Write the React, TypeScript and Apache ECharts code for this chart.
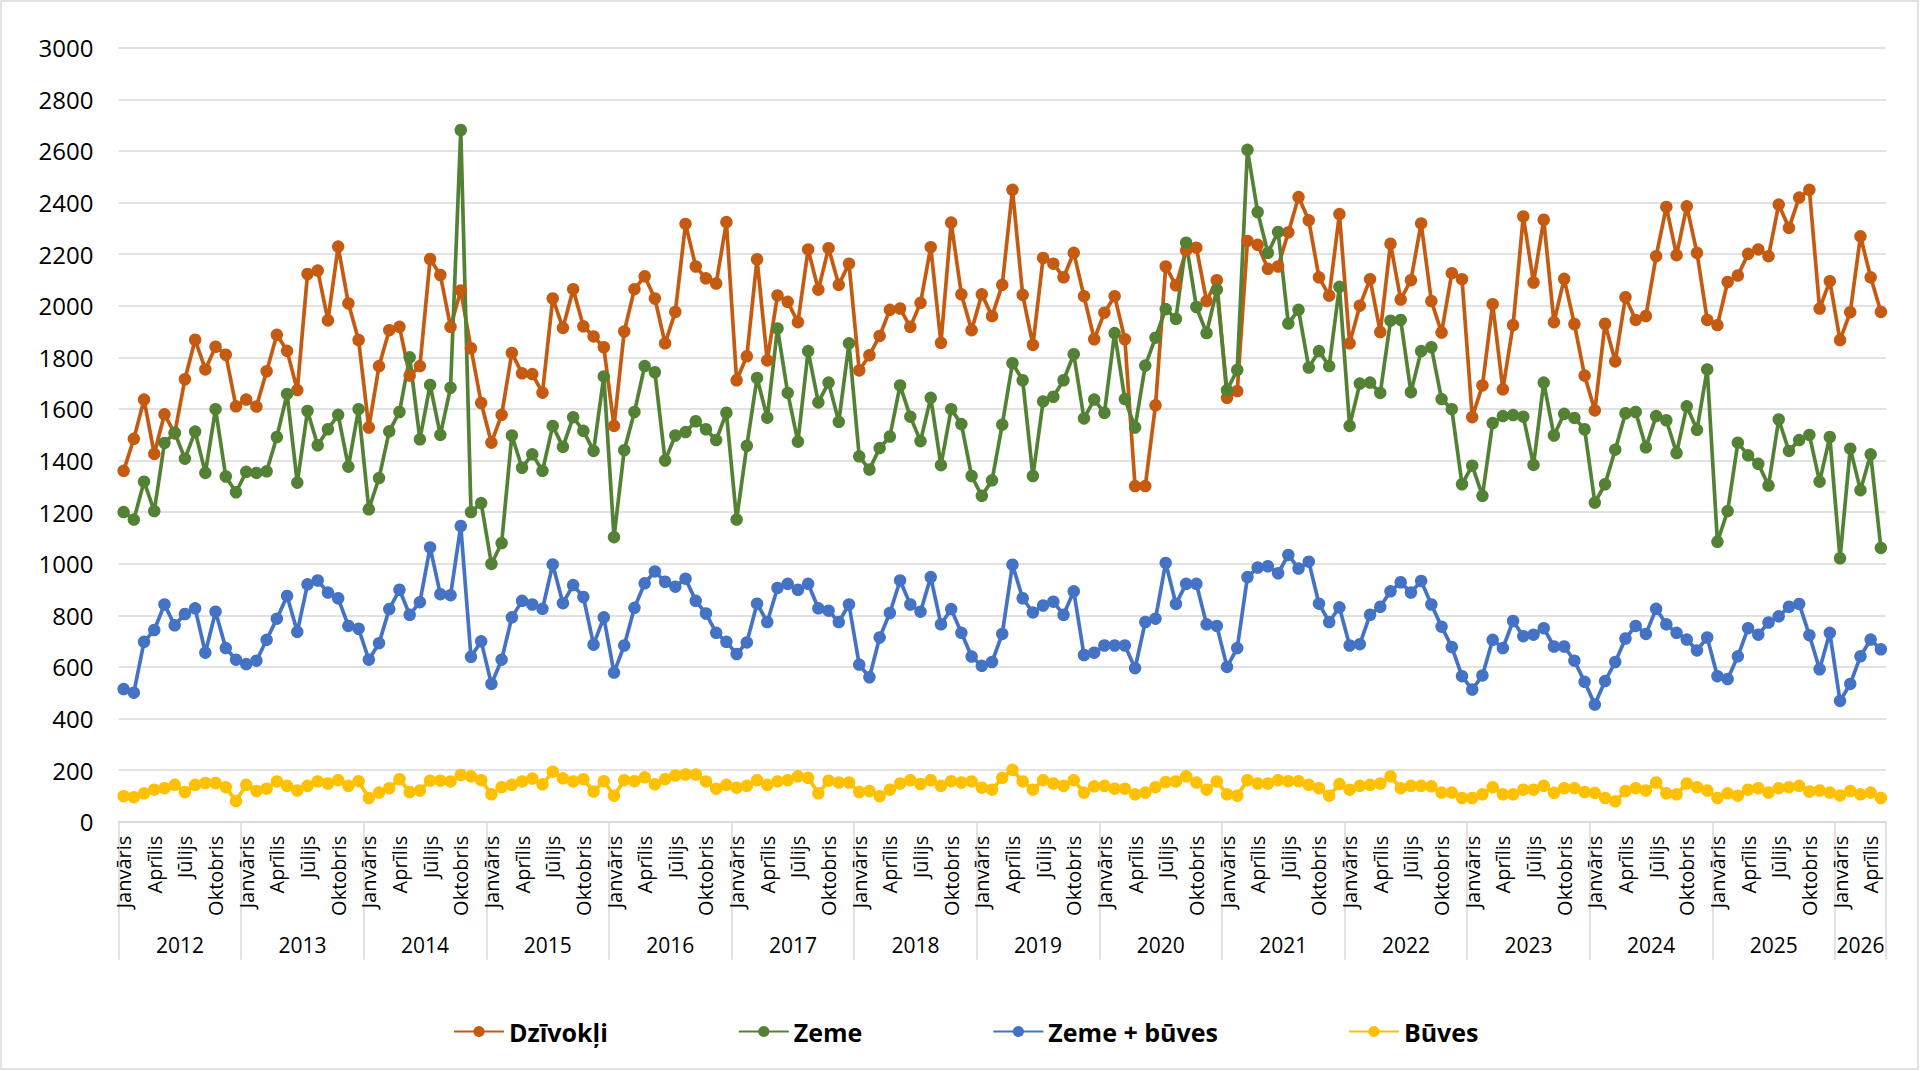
import React, { useEffect, useRef } from 'react';
import * as echarts from 'echarts';

const years = ['2012', '2013', '2014', '2015', '2016', '2017', '2018', '2019', '2020', '2021', '2022', '2023', '2024', '2025', '2026'];
const monthNames = ['Janvāris', 'Februāris', 'Marts', 'Aprīlis', 'Maijs', 'Jūnijs', 'Jūlijs', 'Augusts', 'Septembris', 'Oktobris', 'Novembris', 'Decembris'];
const lastYearMonths = 5;

const yTicks = { min: 0, max: 3000, interval: 200 };

const dzivokli = [
  1360, 1484, 1636, 1426, 1579, 1505, 1715, 1868, 1753, 1841, 1810, 1610,
  1636, 1609, 1746, 1887, 1825, 1673, 2123, 2136, 1943, 2229, 2009, 1867,
  1528, 1766, 1905, 1918, 1729, 1766, 2181, 2119, 1918, 2059, 1835, 1623,
  1469, 1577, 1817, 1738, 1735, 1663, 2028, 1914, 2064, 1920, 1881, 1839,
  1534, 1900, 2064, 2114, 2028, 1854, 1976, 2317, 2152, 2106, 2086, 2324,
  1711, 1804, 2180, 1788, 2040, 2015, 1936, 2218, 2062, 2223, 2081, 2163,
  1749, 1808, 1883, 1984, 1989, 1918, 2011, 2227, 1856, 2322, 2044, 1905,
  2044, 1960, 2081, 2449, 2042, 1848, 2185, 2163, 2110, 2205, 2037, 1870,
  1973, 2037, 1870, 1301, 1301, 1614, 2152, 2079, 2214, 2225, 2018, 2099,
  1643, 1669, 2251, 2236, 2143, 2152, 2284, 2421, 2331, 2110, 2039, 2355,
  1854, 2000, 2103, 1898, 2240, 2024, 2099, 2319, 2018, 1896, 2126, 2103,
  1568, 1691, 2006, 1676, 1925, 2346, 2090, 2333, 1936, 2104, 1929, 1729,
  1594, 1930, 1784, 2033, 1945, 1960, 2192, 2383, 2196, 2385, 2205, 1945,
  1925, 2092, 2117, 2201, 2218, 2192, 2392, 2302, 2419, 2449, 1989, 2095,
  1867, 1975, 2269, 2110, 1976,
];

const zeme = [
  1200, 1171, 1318, 1204, 1468, 1508, 1407, 1512, 1352, 1599, 1338, 1277,
  1356, 1352, 1358, 1491, 1658, 1314, 1592, 1459, 1521, 1577, 1376, 1599,
  1211, 1332, 1513, 1588, 1800, 1482, 1693, 1499, 1682, 2681, 1200, 1235,
  999, 1080, 1497, 1372, 1424, 1360, 1534, 1453, 1568, 1515, 1437, 1726,
  1103, 1440, 1588, 1766, 1742, 1400, 1497, 1510, 1552, 1521, 1479, 1585,
  1171, 1457, 1720, 1566, 1912, 1662, 1473, 1824, 1625, 1702, 1550, 1854,
  1416, 1365, 1448, 1493, 1691, 1570, 1475, 1643, 1382, 1599, 1541, 1340,
  1263, 1323, 1539, 1777, 1711, 1340, 1629, 1647, 1711, 1812, 1563, 1636,
  1585, 1894, 1638, 1528, 1768, 1876, 1987, 1949, 2244, 1995, 1894, 2062,
  1673, 1751, 2604, 2363, 2205, 2286, 1931, 1984, 1760, 1824, 1766, 2073,
  1534, 1698, 1702, 1662, 1942, 1945, 1665, 1824, 1839, 1638, 1599, 1308,
  1380, 1263, 1545, 1572, 1576, 1570, 1383, 1702, 1497, 1581, 1565, 1521,
  1237, 1308, 1442, 1583, 1588, 1451, 1572, 1556, 1429, 1610, 1519, 1753,
  1085, 1204, 1469, 1420, 1387, 1303, 1559, 1437, 1479, 1499, 1318, 1491,
  1021, 1446, 1285, 1424, 1061,
];

const zemeBuves = [
  514, 500, 697, 743, 842, 761, 805, 827, 655, 814, 673, 628,
  611, 624, 705, 787, 875, 736, 920, 935, 888, 866, 759, 748,
  628, 692, 824, 899, 802, 851, 1063, 882, 878, 1146, 639, 699,
  534, 628, 792, 856, 842, 825, 997, 847, 917, 871, 686, 792,
  578, 683, 829, 924, 970, 930, 911, 942, 856, 807, 732, 697,
  650, 695, 845, 774, 906, 922, 899, 922, 827, 818, 774, 842,
  609, 560, 714, 809, 935, 842, 814, 948, 765, 824, 732, 640,
  604, 619, 728, 996, 866, 811, 838, 853, 802, 893, 646, 655,
  683, 683, 683, 595, 774, 787, 1003, 844, 922, 922, 765, 759,
  600, 673, 948, 985, 990, 963, 1034, 981, 1008, 845, 774, 831,
  683, 688, 802, 833, 893, 928, 888, 933, 842, 756, 677, 564,
  512, 567, 705, 673, 778, 719, 725, 750, 679, 679, 624, 542,
  454, 545, 619, 710, 759, 728, 825, 765, 732, 706, 664, 714,
  564, 553, 641, 750, 725, 772, 796, 833, 844, 723, 591, 732,
  468, 534, 641, 706, 668,
];

const buves = [
  99, 95, 110, 124, 130, 143, 115, 143, 150, 150, 134, 80,
  143, 119, 128, 156, 139, 121, 139, 156, 148, 161, 139, 157,
  92, 113, 130, 165, 115, 121, 159, 159, 156, 181, 176, 161,
  106, 134, 143, 156, 167, 145, 194, 168, 156, 165, 117, 157,
  101, 161, 157, 172, 145, 165, 179, 183, 183, 156, 128, 143,
  132, 139, 161, 143, 156, 161, 176, 170, 110, 159, 152, 152,
  115, 119, 99, 124, 148, 161, 146, 161, 139, 157, 152, 156,
  132, 124, 170, 201, 156, 124, 161, 148, 139, 161, 113, 137,
  139, 128, 128, 106, 113, 134, 154, 156, 176, 152, 124, 156,
  106, 101, 161, 148, 148, 161, 157, 157, 143, 130, 101, 146,
  124, 139, 143, 148, 176, 130, 139, 139, 137, 113, 113, 92,
  92, 106, 134, 106, 106, 124, 124, 139, 112, 130, 130, 115,
  112, 92, 79, 119, 130, 121, 152, 110, 106, 148, 134, 121,
  92, 110, 101, 124, 130, 113, 130, 134, 139, 117, 121, 113,
  102, 119, 106, 113, 92,
];

const seriesNames = ['Dzīvokļi', 'Zeme', 'Zeme + būves', 'Būves'];
const seriesColors = ['#C55A11', '#548235', '#4472C4', '#FFC000'];

const FONT = '"Open Sans", sans-serif';

export default function App() {
  const ref = useRef<HTMLDivElement>(null);

  useEffect(() => {
    document.body.style.margin = '0';
    const chart = echarts.init(ref.current as HTMLDivElement, null, { renderer: 'svg' });

    const keys: string[] = [];
    const monthIdx: number[] = [];
    const yearOf: string[] = [];
    const yearLabelIdx: Record<number, 'full' | 'part'> = {};
    years.forEach((y, yi) => {
      const n = yi === years.length - 1 ? lastYearMonths : 12;
      const start = keys.length;
      for (let m = 0; m < n; m++) {
        keys.push(y + '-' + (m + 1));
        monthIdx.push(m);
        yearOf.push(y);
      }
      if (n === 12) yearLabelIdx[start + 6] = 'full';
      else yearLabelIdx[start + Math.floor(n / 2)] = 'part';
    });
    const yearStart: Record<number, boolean> = {};
    keys.forEach((_, i) => {
      if (monthIdx[i] === 0) yearStart[i] = true;
    });

    const allData = [dzivokli, zeme, zemeBuves, buves];

    chart.setOption({
      animation: false,
      backgroundColor: '#ffffff',
      textStyle: { fontFamily: FONT },
      grid: { left: 118.5, right: 34, top: 47.7, bottom: 249.3 },
      legend: {
        data: seriesNames,
        left: 448,
        top: 1014,
        itemWidth: 50,
        itemHeight: 14,
        itemGap: 130,
        textStyle: { fontSize: 25, fontWeight: 'bold', color: '#000', fontFamily: FONT },
      },
      xAxis: [
        {
          type: 'category',
          data: keys,
          boundaryGap: true,
          axisLine: { show: true, lineStyle: { color: '#D9D9D9', width: 1.5 } },
          axisTick: { show: false },
          axisLabel: {
            interval: (i: number) => monthIdx[i] % 3 === 0,
            formatter: (_v: string, i: number) => monthNames[monthIdx[i]],
            rotate: 90,
            margin: 14,
            fontSize: 20,
            color: '#000',
            fontFamily: FONT,
          },
          splitLine: { show: false },
        },
        {
          type: 'category',
          data: keys,
          position: 'bottom',
          boundaryGap: true,
          axisLine: { show: false },
          axisTick: {
            show: true,
            interval: (i: number) => !!yearStart[i],
            length: 138,
            lineStyle: { color: '#D9D9D9', width: 1.5 },
          },
          axisLabel: {
            interval: (i: number) => !!yearLabelIdx[i],
            formatter: (_v: string, i: number) =>
              yearLabelIdx[i] === 'full' ? '{a|' + yearOf[i] + '}' : '{b|' + yearOf[i] + '}',
            margin: 113,
            fontSize: 21,
            color: '#000',
            fontFamily: FONT,
            rich: {
              a: { fontSize: 21, color: '#000', fontFamily: FONT, padding: [0, 10, 0, 0] },
              b: { fontSize: 21, color: '#000', fontFamily: FONT },
            },
          },
          splitLine: { show: false },
        },
      ],
      yAxis: {
        type: 'value',
        min: yTicks.min,
        max: yTicks.max,
        interval: yTicks.interval,
        axisLine: { show: false },
        axisTick: { show: false },
        axisLabel: {
          fontSize: 24,
          color: '#000',
          margin: 25,
          fontFamily: FONT,
          formatter: (v: number) => String(v),
        },
        splitLine: { lineStyle: { color: '#D9D9D9', width: 1.5 } },
      },
      graphic: [
        {
          type: 'rect',
          shape: { x: 1, y: 1, width: 1917, height: 1068 },
          style: { fill: 'none', stroke: '#D9D9D9', lineWidth: 1.5 },
          silent: true,
          z: -1,
        },
      ],
      series: seriesNames.map((name, si) => ({
        name,
        type: 'line',
        xAxisIndex: 0,
        yAxisIndex: 0,
        data: allData[si],
        symbol: 'circle',
        symbolSize: 12.5,
        showAllSymbol: true,
        lineStyle: { width: 3.7, color: seriesColors[si] },
        itemStyle: { color: seriesColors[si] },
        emphasis: { disabled: true },
      })),
    });

    return () => chart.dispose();
  }, []);

  return <div ref={ref} style={{ width: 1920, height: 1071 }} />;
}
